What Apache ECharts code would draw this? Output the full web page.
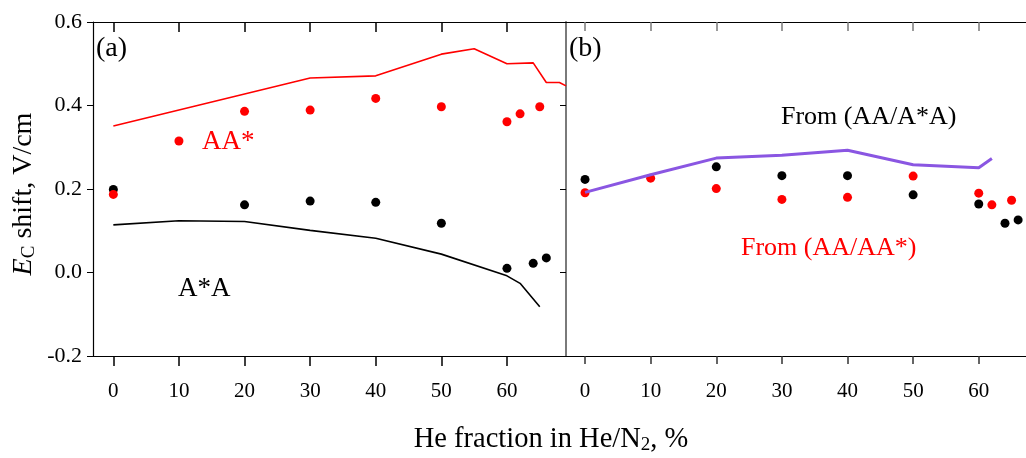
<!DOCTYPE html>
<html>
<head>
<meta charset="utf-8">
<script src="https://cdn.jsdelivr.net/npm/echarts@6/dist/echarts.min.js"></script>
<style>
  html, body { margin: 0; padding: 0; background: #fff; }
  #chart { width: 1026px; height: 458px; }
</style>
</head>
<body>
<div id="chart"></div>
<script>
// Tick positions shared by both panels
const xTicks = [0, 10, 20, 30, 40, 50, 60];

// Panel (a): AA* (red) and A*A (black)
const aaStarLineX = [0, 30, 40, 50, 55, 60, 64, 66, 68, 69];
const aaStarLineY = [0.351, 0.466, 0.471, 0.523, 0.536, 0.500, 0.502, 0.455, 0.455, 0.447];
const aStarALineX = [0, 10, 20, 30, 40, 50, 60, 62, 65];
const aStarALineY = [0.114, 0.124, 0.122, 0.101, 0.082, 0.044, -0.008, -0.026, -0.082];
const aaStarPtsX = [0, 10, 20, 30, 40, 50, 60, 62, 65];
const aaStarPtsY = [0.187, 0.315, 0.386, 0.389, 0.417, 0.397, 0.361, 0.380, 0.397];
const aStarAPtsX = [0, 20, 30, 40, 50, 60, 64, 66];
const aStarAPtsY = [0.199, 0.162, 0.171, 0.168, 0.118, 0.010, 0.022, 0.035];

// Panel (b): derived shifts
const fromAAA_LineX = [0, 10, 20, 30, 40, 50, 60, 62];
const fromAAA_LineY = [0.192, 0.234, 0.274, 0.281, 0.293, 0.258, 0.251, 0.273];
const fromAAA_PtsX = [0, 20, 30, 40, 50, 60, 64, 66];
const fromAAA_PtsY = [0.223, 0.253, 0.232, 0.232, 0.186, 0.164, 0.118, 0.126];
const fromAAS_PtsX = [0, 10, 20, 30, 40, 50, 60, 62, 65];
const fromAAS_PtsY = [0.191, 0.226, 0.201, 0.175, 0.180, 0.231, 0.190, 0.162, 0.173];

const pairs = (xs, ys) => xs.map((x, i) => [x, ys[i]]);

const SERIF = '"Liberation Serif", "Times New Roman", serif';
const RED = '#ff0000';
const PURPLE = '#8a56e2';
const GRAY = '#7a7a7a';

const chart = echarts.init(document.getElementById('chart'), null, { renderer: 'canvas' });

function bottomAxis(gridIndex, min, max, tickColor, tickLen) {
  return {
    type: 'value', gridIndex, position: 'bottom', min, max,
    axisLine: { show: true, onZero: false, lineStyle: { color: '#000', width: 1.2 } },
    axisTick: { show: true, inside: false, length: tickLen, customValues: xTicks,
                lineStyle: { color: tickColor, width: 1.5 } },
    axisLabel: { show: true, customValues: xTicks, margin: 25,
                 fontFamily: SERIF, fontSize: 21, color: '#000' },
    splitLine: { show: false }
  };
}
function topAxis(gridIndex, min, max, tickColor, tickLen) {
  return {
    type: 'value', gridIndex, position: 'top', min, max,
    axisLine: { show: true, onZero: false, lineStyle: { color: '#000', width: 1.2 } },
    axisTick: { show: true, inside: true, length: tickLen, customValues: xTicks,
                lineStyle: { color: tickColor, width: 1.5 } },
    axisLabel: { show: false },
    splitLine: { show: false }
  };
}

const dot = color => ({ color, opacity: 1 });

const option = {
  animation: false,
  backgroundColor: '#fff',
  grid: [
    { left: 93, top: 22, width: 473, height: 334 },
    { left: 566, top: 22, width: 460, height: 334 }
  ],
  xAxis: [
    bottomAxis(0, -3.1, 69, '#000', 10),
    topAxis(0, -3.1, 69, '#000', 10),
    bottomAxis(1, -2.9, 67.2, '#333', 8),
    topAxis(1, -2.9, 67.2, GRAY, 9)
  ],
  yAxis: [
    {
      type: 'value', gridIndex: 0, position: 'left', min: -0.2, max: 0.6, interval: 0.2,
      axisLine: { show: true, onZero: false, lineStyle: { color: '#000', width: 1.2 } },
      axisTick: { show: true, inside: false, length: 6, lineStyle: { color: '#000' } },
      axisLabel: { show: true, margin: 11, fontFamily: SERIF, fontSize: 22, color: '#000',
                   formatter: v => v.toFixed(1) },
      splitLine: { show: false }
    },
    {
      type: 'value', gridIndex: 0, position: 'right', min: -0.2, max: 0.6, interval: 0.2,
      axisLine: { show: true, onZero: false, lineStyle: { color: GRAY, width: 2 } },
      axisTick: { show: true, inside: true, length: 6, lineStyle: { color: '#000' } },
      axisLabel: { show: false },
      splitLine: { show: false }
    },
    {
      type: 'value', gridIndex: 1, min: -0.2, max: 0.6, interval: 0.2, show: false
    }
  ],
  series: [
    { type: 'line', xAxisIndex: 0, yAxisIndex: 0, data: pairs(aaStarLineX, aaStarLineY),
      showSymbol: false, lineStyle: { color: RED, width: 1.6 }, z: 3 },
    { type: 'line', xAxisIndex: 0, yAxisIndex: 0, data: pairs(aStarALineX, aStarALineY),
      showSymbol: false, lineStyle: { color: '#000', width: 1.6 }, z: 3 },
    { type: 'scatter', xAxisIndex: 0, yAxisIndex: 0, data: pairs(aStarAPtsX, aStarAPtsY),
      symbol: 'circle', symbolSize: 9, itemStyle: dot('#000'), z: 4 },
    { type: 'scatter', xAxisIndex: 0, yAxisIndex: 0, data: pairs(aaStarPtsX, aaStarPtsY),
      symbol: 'circle', symbolSize: 9, itemStyle: dot(RED), z: 4 },

    { type: 'scatter', xAxisIndex: 2, yAxisIndex: 2, data: pairs(fromAAA_PtsX, fromAAA_PtsY),
      symbol: 'circle', symbolSize: 9, itemStyle: dot('#000'), z: 4 },
    { type: 'scatter', xAxisIndex: 2, yAxisIndex: 2, data: pairs(fromAAS_PtsX, fromAAS_PtsY),
      symbol: 'circle', symbolSize: 9, itemStyle: dot(RED), z: 4 },
    { type: 'line', xAxisIndex: 2, yAxisIndex: 2, data: pairs(fromAAA_LineX, fromAAA_LineY),
      showSymbol: false, lineStyle: { color: PURPLE, width: 3 }, z: 5 }
  ],
  graphic: [
    { type: 'text', left: 96, top: 35, z: 10,
      style: { text: '(a)', font: '28px ' + SERIF, fill: '#000' } },
    { type: 'text', left: 569, top: 35, z: 10,
      style: { text: '(b)', font: '28px ' + SERIF, fill: '#000' } },
    { type: 'text', left: 202, top: 128, z: 10,
      style: { text: 'AA*', font: '27px ' + SERIF, fill: RED } },
    { type: 'text', left: 178, top: 275, z: 10,
      style: { text: 'A*A', font: '27px ' + SERIF, fill: '#000' } },
    { type: 'text', left: 781, top: 104, z: 10,
      style: { text: 'From (AA/A*A)', font: '26px ' + SERIF, fill: '#000' } },
    { type: 'text', left: 741, top: 235, z: 10,
      style: { text: 'From (AA/AA*)', font: '26px ' + SERIF, fill: RED } },
    // x-axis title
    { type: 'text', x: 551, y: 440, z: 10,
      style: {
        text: '{t|He fraction in He/N}{s|2}{t|, %}',
        align: 'center', verticalAlign: 'middle',
        rich: {
          t: { fontFamily: SERIF, fontSize: 28.5, lineHeight: 30, fill: '#000', color: '#000' },
          s: { fontFamily: SERIF, fontSize: 19, lineHeight: 10, verticalAlign: 'bottom', fill: '#000', color: '#000' }
        }
      } },
    // y-axis title, rotated
    { type: 'text', x: 24, y: 194, rotation: Math.PI / 2, z: 10,
      style: {
        text: '{e|E}{s|C}{t| shift, V/cm}',
        align: 'center', verticalAlign: 'middle',
        rich: {
          e: { fontFamily: SERIF, fontSize: 28, fontStyle: 'italic', lineHeight: 30, fill: '#000', color: '#000' },
          t: { fontFamily: SERIF, fontSize: 28, lineHeight: 30, fill: '#000', color: '#000' },
          s: { fontFamily: SERIF, fontSize: 19, lineHeight: 10, verticalAlign: 'bottom', fill: '#000', color: '#000' }
        }
      } }
  ]
};

chart.setOption(option);
</script>
</body>
</html>
